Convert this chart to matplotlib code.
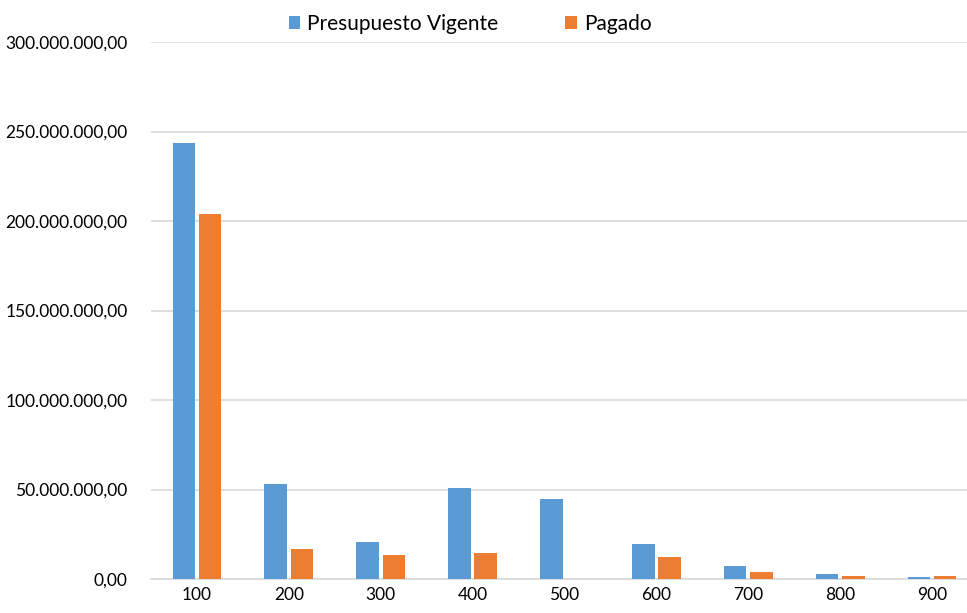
import numpy as np
import matplotlib.pyplot as plt
from matplotlib.ticker import FuncFormatter

categories = ['100', '200', '300', '400', '500', '600', '700', '800', '900']
vigente = [243.6e6, 52.8e6, 20.7e6, 50.6e6, 44.6e6, 19.6e6, 7.4e6, 2.8e6, 1.3e6]
pagado = [204.0e6, 17.0e6, 13.6e6, 14.7e6, 0.0, 12.3e6, 3.9e6, 1.5e6, 1.4e6]

plt.rcParams['font.family'] = ['Lato', 'DejaVu Sans']
plt.rcParams['font.size'] = 12

fig = plt.figure(figsize=(9.67, 6.13), dpi=100)
ax = fig.add_axes([151/967, 34/613, 827/967, 537/613])

x = np.arange(len(categories))
w = 0.245
ax.bar(x - w/2 - 0.02, vigente, w, color='#5B9BD5', label='Presupuesto Vigente', zorder=3)
ax.bar(x + w/2 + 0.02, pagado, w, color='#ED7D31', label='Pagado', zorder=3)

ax.set_xlim(-0.5, len(categories) - 0.5)
ax.set_ylim(0, 300e6)
ax.set_yticks(np.arange(0, 300e6 + 1, 50e6))

def fmt(v, pos):
    s = '{:,.2f}'.format(v)
    return s.replace(',', 'X').replace('.', ',').replace('X', '.')

ax.yaxis.set_major_formatter(FuncFormatter(fmt))
ax.set_xticks(x)
ax.set_xticklabels(categories)
ax.grid(axis='y', color='#D9D9D9', linewidth=1.2, zorder=0)
for s in ['top', 'right', 'left']:
    ax.spines[s].set_visible(False)
ax.spines['bottom'].set_color('#D9D9D9')
ax.spines['bottom'].set_linewidth(1.2)
ax.tick_params(axis='both', length=0, labelsize=12.5, colors='#000000')
ax.tick_params(axis='y', pad=17)
ax.tick_params(axis='x', pad=6)

fig.legend(loc='center', bbox_to_anchor=(470/967, 1 - 24/613), ncol=2, frameon=False,
           fontsize=15, handlelength=0.55, handleheight=0.55, handletextpad=0.35,
           columnspacing=3.2)

plt.savefig('out.png', dpi=100)
